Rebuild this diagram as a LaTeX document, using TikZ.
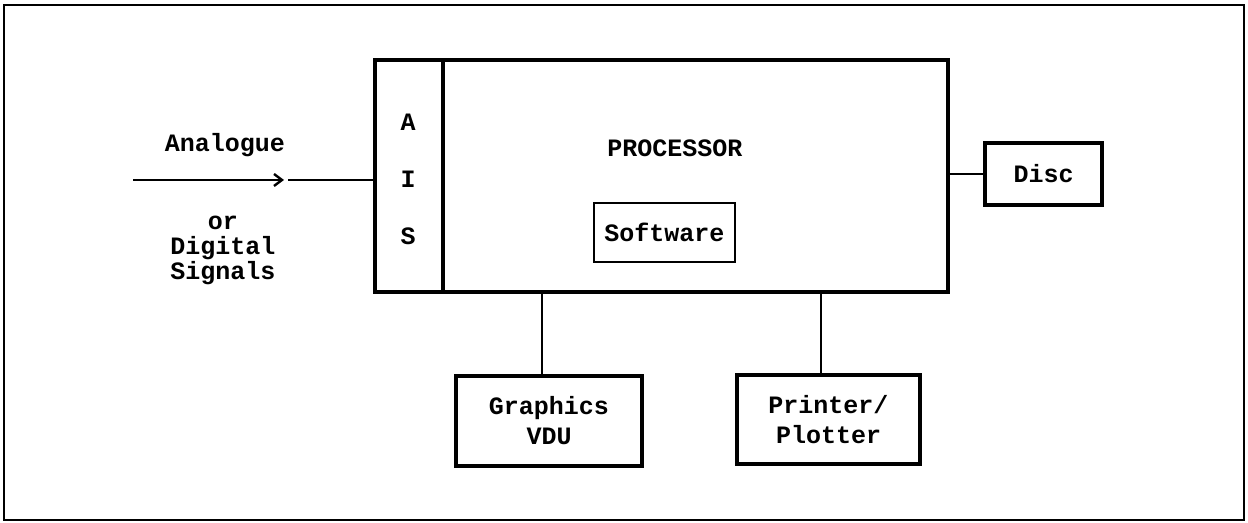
\documentclass[tikz,border=0pt]{standalone}
\usepackage{fontspec}
\setmonofont{Liberation Mono}
\usetikzlibrary{arrows.meta}
\tikzset{
  txt/.style={font=\ttfamily\bfseries\fontsize{12.5}{15}\selectfont, inner sep=0pt, align=center},
  bigbox/.style={draw, line width=2.2pt, inner sep=0pt, txt},
  smallbox/.style={draw, line width=1.2pt, inner sep=0pt, txt},
  wire/.style={line width=1pt},
}
\begin{document}
\begin{tikzpicture}[x=1pt,y=1pt]
\useasboundingbox (0,0) rectangle (624,-261.5);
\draw[line width=1pt] (2,-2.5) rectangle (622,-260);
% main blocks
\node[bigbox, minimum width=34pt, minimum height=116pt] (ais) at (204.5,-88) {};
\node[txt] (la) at (204,-61) {A};
\node[txt] (li) at (204,-89.5) {I};
\node[txt] (ls) at (204,-118) {S};
\node[bigbox, minimum width=252.5pt, minimum height=116pt] (proc) at (347.75,-88) {};
\node[txt] (ptxt) at (337.5,-74) {PROCESSOR};
\node[smallbox, minimum width=70.5pt, minimum height=29.5pt] (soft) at (332.25,-116.25) {Software};
% peripherals
\node[bigbox, minimum width=58.5pt, minimum height=31pt] (disc) at (521.75,-87) {Disc};
\node[bigbox, minimum width=93pt, minimum height=45pt] (vdu) at (274.5,-210.5) {Graphics\\VDU};
\node[bigbox, minimum width=91.5pt, minimum height=44.5pt] (prn) at (414.25,-209.75) {Printer/\\Plotter};
% connectors
\draw[wire] (proc.east |- disc.west) -- (disc.west);
\coordinate (v1) at (271,-146);
\coordinate (p1) at (410.5,-146);
\draw[wire] (v1) -- (v1 |- vdu.north);
\draw[wire] (p1) -- (p1 |- prn.north);
% input
\coordinate (in) at (66.5,-90);
\coordinate (arr) at (142,-90);
\coordinate (arr2) at (144,-90);
\draw[wire, -{Straight Barb[length=4pt,width=6pt,line width=1.2pt]}] (in) -- (arr);
\draw[wire] (arr2) -- (ais.west |- in);
\node[txt] (an) at (112.5,-72.5) {Analogue};
\node[txt, font=\ttfamily\bfseries\fontsize{12.5}{12.5}\selectfont] (ds) at (111.5,-125) {or\\Digital\\Signals};
\end{tikzpicture}
\end{document}
